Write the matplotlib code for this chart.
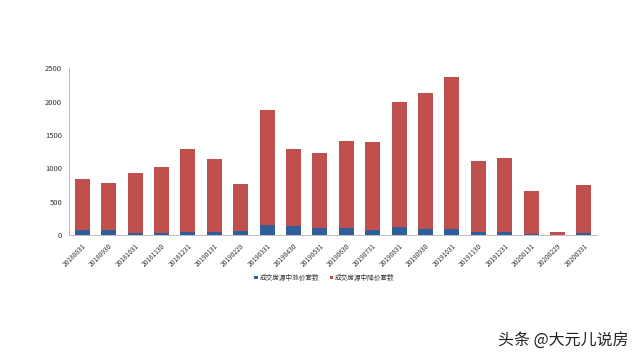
import matplotlib
matplotlib.use("Agg")
import matplotlib.pyplot as plt
import numpy as np

plt.rcParams['font.family'] = ['Noto Sans CJK SC', 'DejaVu Sans']

dates = ["20180831", "20180930", "20181031", "20181130", "20181231", "20190131",
         "20190228", "20190331", "20190430", "20190531", "20190630", "20190731",
         "20190831", "20190930", "20191031", "20191130", "20191231", "20200131",
         "20200229", "20200331"]
totals = [835, 785, 925, 1015, 1295, 1145, 760, 1875, 1290, 1225, 1418, 1390,
          2000, 2130, 2365, 1105, 1155, 665, 40, 750]
up_counts = [75, 75, 35, 35, 45, 45, 55, 145, 135, 105, 100, 70,
             115, 95, 85, 45, 45, 15, 2, 35]
down_counts = [t - u for t, u in zip(totals, up_counts)]
series_names = ["成交房源中涨价套数", "成交房源中降价套数"]
yticks = [0, 500, 1000, 1500, 2000, 2500]

blue = "#2F5F9A"
red = "#C0504D"

fig = plt.figure(figsize=(6.4, 3.6), dpi=100)
ax = fig.add_axes([0.108, 0.347, 0.825, 0.463])
x = np.arange(len(dates))
ax.bar(x, up_counts, width=0.57, color=blue, label=series_names[0])
ax.bar(x, down_counts, width=0.57, bottom=up_counts, color=red, label=series_names[1])

ax.set_xlim(-0.5, len(dates) - 0.5)
ax.set_ylim(0, 2500)
ax.set_yticks(yticks)
ax.set_yticklabels([str(v) for v in yticks], fontsize=5.5, color="#333333")
ax.set_xticks(x)
ax.set_xticklabels(dates, rotation=45, ha="right", rotation_mode="anchor",
                   fontsize=4.8, color="#333333")
ax.tick_params(axis="y", length=0, pad=5)
ax.tick_params(axis="x", length=0, pad=5)
for s in ["top", "right"]:
    ax.spines[s].set_visible(False)
ax.spines["left"].set_color("#BBBBBB")
ax.spines["bottom"].set_color("#BBBBBB")
ax.spines["left"].set_linewidth(0.7)
ax.spines["bottom"].set_linewidth(0.7)

fig.legend(loc="center", bbox_to_anchor=(0.507, 0.228), ncol=2, frameon=False,
           fontsize=4.8, handlelength=0.5, handleheight=0.5, handletextpad=0.3,
           columnspacing=1.6, labelcolor="#333333")

fig.text(0.982, 0.055, "头条 @大元儿说房", ha="right", va="center",
         fontsize=11.5, color="#222222")

fig.savefig("out.png", dpi=100)
